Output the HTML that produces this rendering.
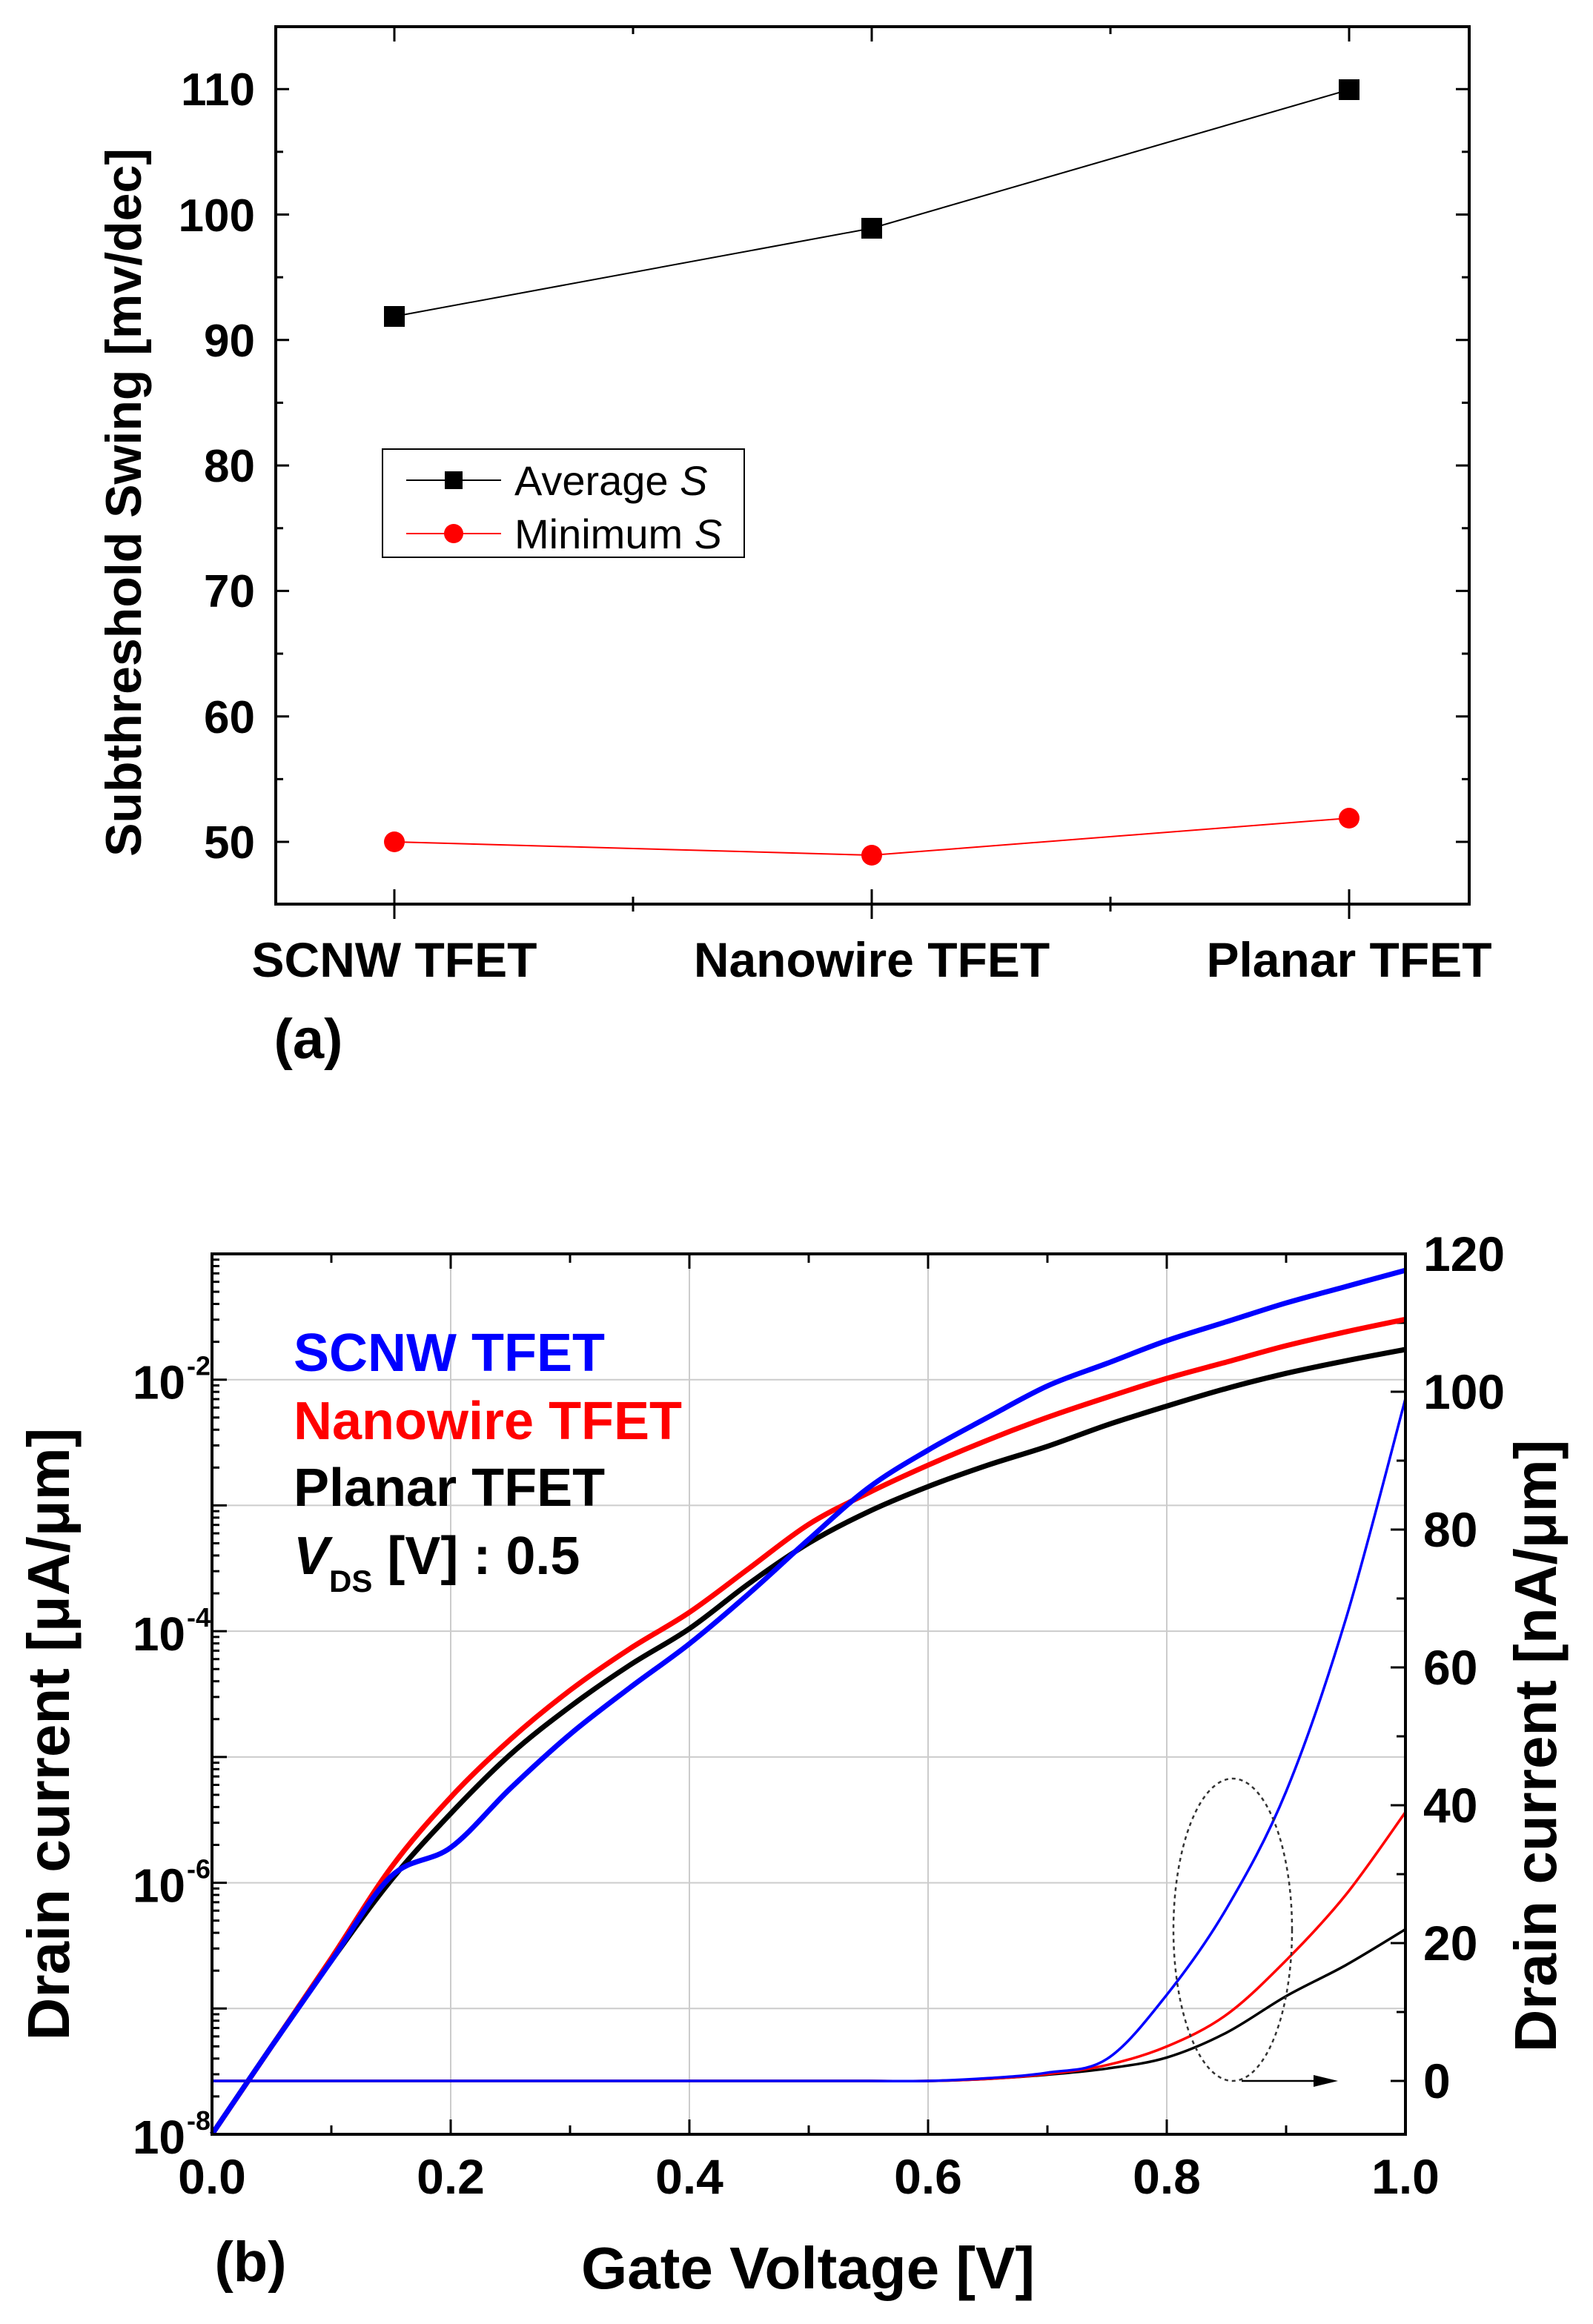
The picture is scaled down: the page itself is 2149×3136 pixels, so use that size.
<!DOCTYPE html>
<html><head><meta charset="utf-8"><style>
html,body{margin:0;padding:0;background:#fff;}
svg{display:block;}
text{font-family:"Liberation Sans",Arial,sans-serif;}
</style></head><body>
<svg id="s" width="2149" height="3136" viewBox="0 0 2149 3136" xmlns="http://www.w3.org/2000/svg">
<rect width="2149" height="3136" fill="#fff"/>
<g id="a"></g>
<rect x="372" y="36" width="1610" height="1184" fill="none" stroke="#000" stroke-width="4"/>
<polyline points="532,427 1176,308 1820,121" fill="none" stroke="#000" stroke-width="2"/>
<rect x="518" y="413" width="28" height="28" fill="#000"/>
<rect x="1162" y="294" width="28" height="28" fill="#000"/>
<rect x="1806" y="107" width="28" height="28" fill="#000"/>
<polyline points="532,1136 1176,1154 1820,1104" fill="none" stroke="#f00" stroke-width="2"/>
<circle cx="532" cy="1136" r="14" fill="#f00"/>
<circle cx="1176" cy="1154" r="14" fill="#f00"/>
<circle cx="1820" cy="1104" r="14" fill="#f00"/>
<g font-size="62" font-weight="bold" text-anchor="end">
<text x="344" y="142">110</text><text x="344" y="312">100</text><text x="344" y="481">90</text>
<text x="344" y="650">80</text><text x="344" y="819">70</text><text x="344" y="989">60</text><text x="344" y="1158">50</text>
</g>
<g font-size="66" font-weight="bold" text-anchor="middle">
<text x="532" y="1318">SCNW TFET</text><text x="1176" y="1318">Nanowire TFET</text><text x="1820" y="1318">Planar TFET</text>
<text x="416" y="1428" font-size="76">(a)</text>
</g>
<text transform="translate(190,678) rotate(-90)" font-size="68" font-weight="bold" text-anchor="middle">Subthreshold Swing [mv/dec]</text>
<rect x="516" y="606" width="488" height="146" fill="#fff" stroke="#000" stroke-width="2"/>
<line x1="548" y1="648" x2="676" y2="648" stroke="#000" stroke-width="2"/>
<rect x="600" y="636" width="24" height="24" fill="#000"/>
<line x1="548" y1="720" x2="676" y2="720" stroke="#f00" stroke-width="2"/>
<circle cx="612" cy="720" r="13" fill="#f00"/>
<text x="694" y="668" font-size="56">Average <tspan font-style="italic">S</tspan></text>
<text x="694" y="740" font-size="56">Minimum <tspan font-style="italic">S</tspan></text>
<g id="b"></g>
</svg>
<script>
const NS="http://www.w3.org/2000/svg";
function el(p,t,a,txt){const e=document.createElementNS(NS,t);for(const k in a)e.setAttribute(k,a[k]);if(txt!==undefined)e.textContent=txt;p.appendChild(e);return e;}
const A=document.getElementById('a');
for(let i=0;i<=13;i++){const v=45+i*5;const y=1136-(v-50)*16.93;if(y<36||y>1220)continue;const L=(v%10==0)?18:10;
 el(A,'line',{x1:372,y1:y,x2:372+L,y2:y,stroke:'#000','stroke-width':3});
 el(A,'line',{x1:1982,y1:y,x2:1982-L,y2:y,stroke:'#000','stroke-width':3});}
[532,854,1176,1498,1820].forEach((x,i)=>{const L=i%2==0?20:10;
 el(A,'line',{x1:x,y1:1220,x2:x,y2:1220-L,stroke:'#000','stroke-width':3});
 el(A,'line',{x1:x,y1:1220,x2:x,y2:1220+L,stroke:'#000','stroke-width':3});
 el(A,'line',{x1:x,y1:36,x2:x,y2:36+L,stroke:'#000','stroke-width':3});});
const B=document.getElementById('b');
const X0=286,X1=1896,YT=1692,YB=2880,DEC=(YB-YT)/7;
const px=v=>X0+v*(X1-X0);
const py=l=>YB-(l+8)*DEC;
const R0=2808,RS=(2808-1692)/120;
const pr=v=>R0-v*RS;
for(let d=-7;d<=-2;d++)el(B,'line',{x1:X0,y1:py(d),x2:X1,y2:py(d),stroke:'#ccc','stroke-width':2});
for(let v=0.2;v<0.99;v+=0.2)el(B,'line',{x1:px(v),y1:YT,x2:px(v),y2:YB,stroke:'#ccc','stroke-width':2});
for(let d=-8;d<=-2;d++){for(let m=1;m<=9;m++){const l=d+Math.log10(m);if(l>-1)continue;const y=py(l);const L=m==1?20:10;
 el(B,'line',{x1:X0,y1:y,x2:X0+L,y2:y,stroke:'#000','stroke-width':3});}}
for(let v=-10;v<=120;v+=10){const y=pr(v);if(y>YB||y<YT)continue;const L=v%20==0?20:12;
 el(B,'line',{x1:X1,y1:y,x2:X1-L,y2:y,stroke:'#000','stroke-width':3});}
for(let i=0;i<=10;i++){const x=px(i/10);const L=i%2==0?20:12;
 el(B,'line',{x1:x,y1:YB,x2:x,y2:YB-L,stroke:'#000','stroke-width':3});
 el(B,'line',{x1:x,y1:YT,x2:x,y2:YT+L,stroke:'#000','stroke-width':3});}
function path(pts){let d='M'+pts[0][0].toFixed(1)+','+pts[0][1].toFixed(1);
 for(let i=0;i<pts.length-1;i++){const p0=pts[Math.max(0,i-1)],p1=pts[i],p2=pts[i+1],p3=pts[Math.min(pts.length-1,i+2)];
  const c1=[p1[0]+(p2[0]-p0[0])/6,p1[1]+(p2[1]-p0[1])/6],c2=[p2[0]-(p3[0]-p1[0])/6,p2[1]-(p3[1]-p1[1])/6];
  d+=` C${c1[0].toFixed(1)},${c1[1].toFixed(1)} ${c2[0].toFixed(1)},${c2[1].toFixed(1)} ${p2[0].toFixed(1)},${p2[1].toFixed(1)}`;}
 return d;}
const V=[];for(let i=0;i<=20;i++)V.push(i*0.05);
const logs={
 black:[-8,-7.3,-6.62,-5.98,-5.45,-4.98,-4.6,-4.27,-3.98,-3.62,-3.3,-3.05,-2.85,-2.68,-2.53,-2.36,-2.21,-2.07,-1.95,-1.85,-1.76],
 red:[-8,-7.3,-6.6,-5.88,-5.32,-4.86,-4.47,-4.14,-3.85,-3.5,-3.15,-2.9,-2.68,-2.48,-2.3,-2.14,-1.99,-1.86,-1.73,-1.62,-1.52],
 blue:[-8,-7.3,-6.62,-5.95,-5.72,-5.25,-4.82,-4.45,-4.1,-3.7,-3.27,-2.86,-2.56,-2.3,-2.05,-1.87,-1.69,-1.54,-1.39,-1.26,-1.13]};
const col={black:'#000',red:'#f00',blue:'#00f'};
for(const k of ['black','red','blue']){el(B,'path',{d:path(V.map((v,i)=>[px(v),py(logs[k][i])])),fill:'none',stroke:col[k],'stroke-width':7,'stroke-linejoin':'round'});}
const LV=[0.55,0.6,0.65,0.7,0.75,0.8,0.85,0.9,0.95,1.0];
const lin={black:[0,0,0.3,0.9,1.8,3.4,7,12.3,16.8,22],red:[0,0,0.3,1,2.3,5,9.6,17.5,27,39],blue:[0,0,0.4,1.2,3.2,12.5,25,42,67,99]};
for(const k of ['black','red','blue']){
 const p=path(LV.map((v,i)=>[px(v),pr(lin[k][i])]));
 el(B,'path',{d:'M'+px(0)+','+pr(0)+' L'+p.slice(1),fill:'none',stroke:col[k],'stroke-width':3.5});}
el(B,'ellipse',{cx:1663,cy:2604,rx:80,ry:204,fill:'none',stroke:'#333','stroke-width':2.5,'stroke-dasharray':'5,5'});
el(B,'line',{x1:1675,y1:2808,x2:1775,y2:2808,stroke:'#000','stroke-width':2.5});
el(B,'polygon',{points:'1805,2808 1772,2800 1772,2816',fill:'#000'});
el(B,'rect',{x:X0,y:YT,width:X1-X0,height:YB-YT,fill:'none',stroke:'#000','stroke-width':4});
const G=el(B,'g',{'font-weight':'bold'});
['0.0','0.2','0.4','0.6','0.8','1.0'].forEach((t,i)=>el(G,'text',{x:px(i*0.2),y:2960,'font-size':66,'text-anchor':'middle'},t));
[-8,-6,-4,-2].forEach(d=>{el(G,'text',{x:250,y:py(d)+26,'font-size':64,'text-anchor':'end'},'10');
 el(G,'text',{x:252,y:py(d)-6,'font-size':36},String(d));});
[0,20,40,60,80,100,120].forEach(v=>el(G,'text',{x:1920,y:pr(v)+23,'font-size':66},v));
el(G,'text',{x:1090,y:3088,'font-size':80,'text-anchor':'middle'},'Gate Voltage [V]');
el(G,'text',{x:338,y:3078,'font-size':76,'text-anchor':'middle'},'(b)');
el(G,'text',{transform:'translate(93,2340) rotate(-90)','font-size':80,'text-anchor':'middle'},'Drain current [\u03bcA/\u03bcm]');
el(G,'text',{transform:'translate(2099,2356) rotate(-90)','font-size':80,'text-anchor':'middle'},'Drain current [nA/\u03bcm]');
el(G,'text',{x:396,y:1850,'font-size':72,fill:'#00f'},'SCNW TFET');
el(G,'text',{x:396,y:1942,'font-size':72,fill:'#f00'},'Nanowire TFET');
el(G,'text',{x:396,y:2032,'font-size':72},'Planar TFET');
const t=el(G,'text',{x:396,y:2124,'font-size':72});
el(t,'tspan',{'font-style':'italic'},'V');
el(t,'tspan',{'font-size':42,dy:24},'DS');
el(t,'tspan',{dy:-24},' [V] : 0.5');
</script>
</body></html>
